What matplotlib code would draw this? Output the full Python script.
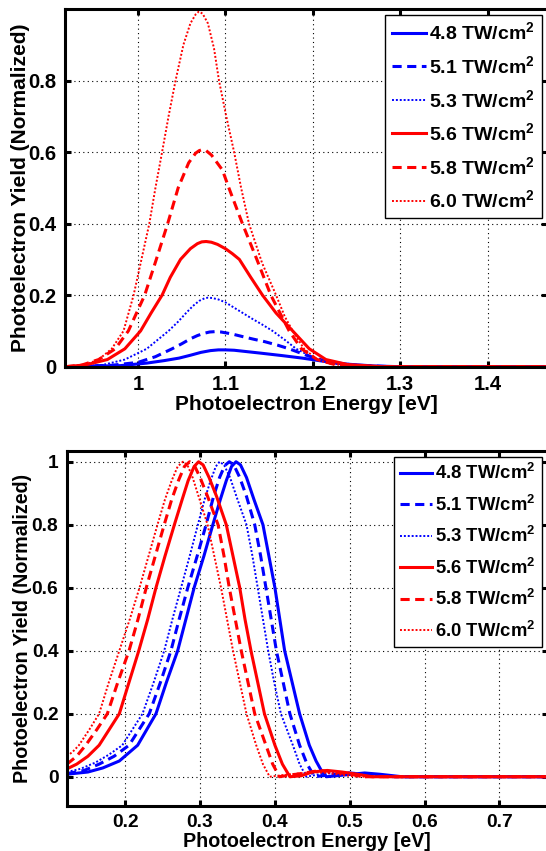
import numpy as np
import matplotlib
matplotlib.use("Agg")
import matplotlib.pyplot as plt

plt.rcParams['font.family'] = ['Liberation Sans', 'DejaVu Sans']
plt.rcParams['font.weight'] = 'bold'
plt.rcParams['mathtext.fontset'] = 'custom'
plt.rcParams['mathtext.rm'] = 'Liberation Sans:bold'
plt.rcParams['mathtext.it'] = 'Liberation Sans:bold'
plt.rcParams['mathtext.bf'] = 'Liberation Sans:bold'

labels = ["4.8 TW/cm$^2$", "5.1 TW/cm$^2$", "5.3 TW/cm$^2$",
          "5.6 TW/cm$^2$", "5.8 TW/cm$^2$", "6.0 TW/cm$^2$"]

# top panel: yield normalized to the strongest spectrum
top_x = [
    [0.917, 0.98, 1.01, 1.03, 1.047, 1.06, 1.072, 1.083, 1.092, 1.1, 1.11, 1.125, 1.14, 1.165, 1.188, 1.21,
     1.24, 1.27, 1.3, 1.469],
    [0.917, 0.97, 1.0, 1.02, 1.039, 1.05, 1.06, 1.068, 1.075, 1.082, 1.088, 1.095, 1.102, 1.11, 1.12, 1.132,
     1.145, 1.16, 1.173, 1.195, 1.22, 1.25, 1.29, 1.469],
    [0.917, 0.96, 0.985, 1.01, 1.035, 1.046, 1.055, 1.063, 1.07, 1.076, 1.08, 1.085, 1.092, 1.1, 1.11, 1.12,
     1.13, 1.142, 1.154, 1.168, 1.181, 1.205, 1.23, 1.27, 1.469],
    [0.917, 0.94, 0.965, 0.985, 1.003, 1.015, 1.0276, 1.037, 1.0487, 1.06, 1.068, 1.073, 1.078, 1.084,
     1.091, 1.1, 1.108, 1.116, 1.129, 1.1425, 1.158, 1.177, 1.196, 1.215, 1.24, 1.28, 1.469],
    [0.917, 0.935, 0.955, 0.974, 0.989, 1.0077, 1.021, 1.034, 1.046, 1.058, 1.066, 1.07, 1.0736, 1.078,
     1.084, 1.0966, 1.104, 1.1195, 1.136, 1.152, 1.173, 1.187, 1.205, 1.225, 1.26, 1.469],
    [0.917, 0.94, 0.955, 0.97, 0.9835, 0.995, 1.004, 1.013, 1.02, 1.0276, 1.035, 1.043, 1.052, 1.06, 1.066,
     1.0697, 1.074, 1.08, 1.087, 1.0927, 1.101, 1.11, 1.118, 1.127, 1.142, 1.158, 1.168, 1.177, 1.19, 1.205,
     1.22, 1.24, 1.28, 1.469],
]
top_y = [
    [0.0, 0.003, 0.01, 0.017, 0.024, 0.032, 0.04, 0.045, 0.047, 0.047, 0.046, 0.042, 0.038, 0.031, 0.024,
     0.016, 0.007, 0.002, 0.0, 0.0],
    [0.0, 0.004, 0.012, 0.028, 0.05, 0.064, 0.078, 0.087, 0.093, 0.097, 0.098, 0.097, 0.094, 0.09, 0.084,
     0.077, 0.07, 0.06, 0.05, 0.03, 0.012, 0.004, 0.0, 0.0],
    [0.0, 0.005, 0.02, 0.05, 0.1, 0.126, 0.15, 0.17, 0.184, 0.191, 0.193, 0.192, 0.188, 0.18, 0.165, 0.15,
     0.135, 0.118, 0.1, 0.075, 0.05, 0.02, 0.007, 0.0, 0.0],
    [0.0, 0.005, 0.02, 0.05, 0.1, 0.15, 0.2, 0.25, 0.3, 0.33, 0.344, 0.349, 0.35, 0.348, 0.342, 0.33,
     0.316, 0.3, 0.25, 0.2, 0.15, 0.1, 0.05, 0.02, 0.006, 0.0, 0.0],
    [0.0, 0.004, 0.02, 0.05, 0.1, 0.2, 0.3, 0.4, 0.5, 0.57, 0.597, 0.604, 0.607, 0.604, 0.592, 0.55,
     0.5, 0.4, 0.3, 0.2, 0.1, 0.05, 0.02, 0.006, 0.0, 0.0],
    [0.0, 0.006, 0.02, 0.05, 0.1, 0.2, 0.3, 0.4, 0.5, 0.6, 0.7, 0.8, 0.9, 0.96, 0.985,
     0.993, 0.987, 0.96, 0.89, 0.8, 0.7, 0.6, 0.5, 0.4, 0.29, 0.2, 0.14, 0.1, 0.05, 0.02,
     0.008, 0.003, 0.0, 0.0],
]

# bottom panel: each spectrum normalized to its own peak
bot_x = [
    [0.122, 0.15, 0.17, 0.192, 0.2165, 0.241, 0.255, 0.270, 0.281, 0.292, 0.305, 0.317, 0.327, 0.335, 0.342,
     0.348, 0.354, 0.362, 0.372, 0.384, 0.392, 0.4, 0.4065, 0.413, 0.423, 0.433, 0.446, 0.455, 0.462, 0.469,
     0.49, 0.52, 0.54, 0.57, 0.765],
    [0.122, 0.145, 0.165, 0.185, 0.205, 0.232, 0.247, 0.261, 0.272, 0.2835, 0.296, 0.308, 0.318, 0.326,
     0.333, 0.339, 0.345, 0.353, 0.362, 0.373, 0.381, 0.388, 0.395, 0.402, 0.411, 0.42, 0.433, 0.443, 0.453,
     0.47, 0.5, 0.53, 0.56, 0.765],
    [0.122, 0.14, 0.16, 0.178, 0.196, 0.223, 0.238, 0.252, 0.263, 0.2745, 0.286, 0.297, 0.306, 0.314, 0.321,
     0.326, 0.332, 0.34, 0.35, 0.362, 0.37, 0.377, 0.384, 0.391, 0.399, 0.408, 0.424, 0.433, 0.442, 0.46,
     0.49, 0.52, 0.55, 0.765],
    [0.122, 0.135, 0.15, 0.165, 0.192, 0.205, 0.218, 0.23, 0.241, 0.253, 0.2656, 0.276, 0.284, 0.292, 0.298,
     0.304, 0.312, 0.322, 0.335, 0.344, 0.353, 0.36, 0.368, 0.377, 0.386, 0.40, 0.41, 0.42, 0.435, 0.45,
     0.47, 0.49, 0.51, 0.53, 0.765],
    [0.122, 0.135, 0.147, 0.162, 0.176, 0.19, 0.205, 0.217, 0.228, 0.24, 0.252, 0.262, 0.271, 0.279, 0.286,
     0.292, 0.3, 0.31, 0.324, 0.332, 0.339, 0.347, 0.355, 0.364, 0.373, 0.388, 0.397, 0.406, 0.42, 0.44,
     0.46, 0.48, 0.5, 0.52, 0.765],
    [0.122, 0.13, 0.138, 0.152, 0.165, 0.178, 0.192, 0.206, 0.219, 0.231, 0.243, 0.253, 0.262, 0.27, 0.277,
     0.283, 0.29, 0.298, 0.310, 0.319, 0.328, 0.336, 0.344, 0.353, 0.362, 0.375, 0.384, 0.393, 0.41, 0.43,
     0.45, 0.47, 0.49, 0.51, 0.765],
]
bot_y = [
    [0.008, 0.015, 0.028, 0.05, 0.1, 0.2, 0.3, 0.4, 0.5, 0.6, 0.7, 0.8, 0.88, 0.94, 0.985,
     1.0, 0.99, 0.95, 0.88, 0.8, 0.7, 0.6, 0.5, 0.4, 0.3, 0.2, 0.1, 0.05, 0.02, 0.0,
     0.005, 0.012, 0.008, 0.0, 0.0],
    [0.01, 0.02, 0.04, 0.065, 0.1, 0.2, 0.3, 0.4, 0.5, 0.6, 0.7, 0.8, 0.89, 0.95, 0.988,
     1.0, 0.99, 0.95, 0.89, 0.8, 0.7, 0.6, 0.5, 0.4, 0.3, 0.2, 0.1, 0.04, 0.0, 0.005,
     0.012, 0.006, 0.0, 0.0],
    [0.015, 0.025, 0.045, 0.07, 0.1, 0.2, 0.3, 0.4, 0.5, 0.6, 0.7, 0.8, 0.88, 0.94, 0.985,
     1.0, 0.99, 0.95, 0.88, 0.8, 0.7, 0.6, 0.5, 0.4, 0.3, 0.2, 0.1, 0.04, 0.0, 0.008,
     0.015, 0.008, 0.0, 0.0],
    [0.025, 0.04, 0.065, 0.1, 0.2, 0.3, 0.4, 0.5, 0.6, 0.7, 0.8, 0.88, 0.94, 0.985, 1.0,
     0.99, 0.95, 0.89, 0.8, 0.7, 0.6, 0.5, 0.4, 0.3, 0.2, 0.1, 0.04, 0.0, 0.003, 0.015,
     0.02, 0.015, 0.008, 0.0, 0.0],
    [0.04, 0.065, 0.1, 0.15, 0.2, 0.3, 0.4, 0.5, 0.6, 0.7, 0.8, 0.88, 0.94, 0.985, 1.0,
     0.99, 0.95, 0.89, 0.8, 0.7, 0.6, 0.5, 0.4, 0.3, 0.2, 0.1, 0.04, 0.0, 0.005, 0.012,
     0.02, 0.015, 0.008, 0.0, 0.0],
    [0.065, 0.08, 0.1, 0.15, 0.2, 0.3, 0.4, 0.5, 0.6, 0.7, 0.8, 0.88, 0.94, 0.985, 1.0,
     0.99, 0.95, 0.89, 0.8, 0.7, 0.6, 0.5, 0.4, 0.3, 0.2, 0.1, 0.04, 0.0, 0.005, 0.01,
     0.015, 0.012, 0.006, 0.0, 0.0],
]

top_xticks = [1.0, 1.1, 1.2, 1.3, 1.4]
top_xticklabels = ["1", "1.1", "1.2", "1.3", "1.4"]
top_yticks = [0, 0.2, 0.4, 0.6, 0.8]
top_yticklabels = ["0", "0.2", "0.4", "0.6", "0.8"]
bot_xticks = [0.2, 0.3, 0.4, 0.5, 0.6, 0.7]
bot_xticklabels = ["0.2", "0.3", "0.4", "0.5", "0.6", "0.7"]
bot_yticks = [0, 0.2, 0.4, 0.6, 0.8, 1.0]
bot_yticklabels = ["0", "0.2", "0.4", "0.6", "0.8", "1"]

colors = ["#0000ff"] * 3 + ["#ff0000"] * 3
styles = ["-", (0, (3.0, 1.8)), (0, (1, 1))] * 2
widths = [2.2, 2.2, 1.4] * 2


def style_axes(ax, fs, lpad):
    ax.grid(True, color="black", linestyle=(0, (1, 3)), linewidth=0.8)
    ax.tick_params(direction="in", length=4, width=2.2, top=True, right=True,
                   labelsize=fs, pad=6)
    for sp in ax.spines.values():
        sp.set_linewidth(2.2)
    for lab in ax.get_xticklabels() + ax.get_yticklabels():
        lab.set_fontweight("bold")
    ax.set_xlabel("Photoelectron Energy [eV]", fontsize=fs + 0.4, fontweight="bold", labelpad=1)
    ax.set_ylabel("Photoelectron Yield (Normalized)", fontsize=fs + 0.4, fontweight="bold", labelpad=lpad)


def add_legend(ax, fs, spacing):
    leg = ax.legend(loc="upper right", fontsize=fs, frameon=True, fancybox=False,
                    edgecolor="black", framealpha=1, handlelength=1.75, handletextpad=0.15,
                    labelspacing=spacing, borderpad=0.35, borderaxespad=0.3)
    leg.get_frame().set_linewidth(1.0)
    for t in leg.get_texts():
        t.set_fontweight("bold")


fig = plt.figure(figsize=(5.46, 8.51), dpi=100)

ax1 = fig.add_axes([0.119, 0.5691, 0.8837, 0.4203])
for i in range(6):
    ax1.plot(top_x[i], top_y[i], color=colors[i], linestyle=styles[i], linewidth=widths[i],
             label=labels[i])
ax1.set_xlim(0.9165, 1.4685)
ax1.set_ylim(0, 1.0)
ax1.set_xticks(top_xticks)
ax1.set_xticklabels(top_xticklabels)
ax1.set_yticks(top_yticks)
ax1.set_yticklabels(top_yticklabels)
style_axes(ax1, 14.6, -1)
add_legend(ax1, 14, 0.6)

ax2 = fig.add_axes([0.1222, 0.0532, 0.8806, 0.4168])
for i in range(6):
    ax2.plot(bot_x[i], bot_y[i], color=colors[i], linestyle=styles[i], linewidth=widths[i],
             label=labels[i])
ax2.set_xlim(0.1217, 0.7644)
ax2.set_ylim(-0.092, 1.034)
ax2.set_xticks(bot_xticks)
ax2.set_xticklabels(bot_xticklabels)
ax2.set_yticks(bot_yticks)
ax2.set_yticklabels(bot_yticklabels)
style_axes(ax2, 13.8, -0.5)
add_legend(ax2, 13.3, 0.62)

fig.savefig("out.png", dpi=100)
